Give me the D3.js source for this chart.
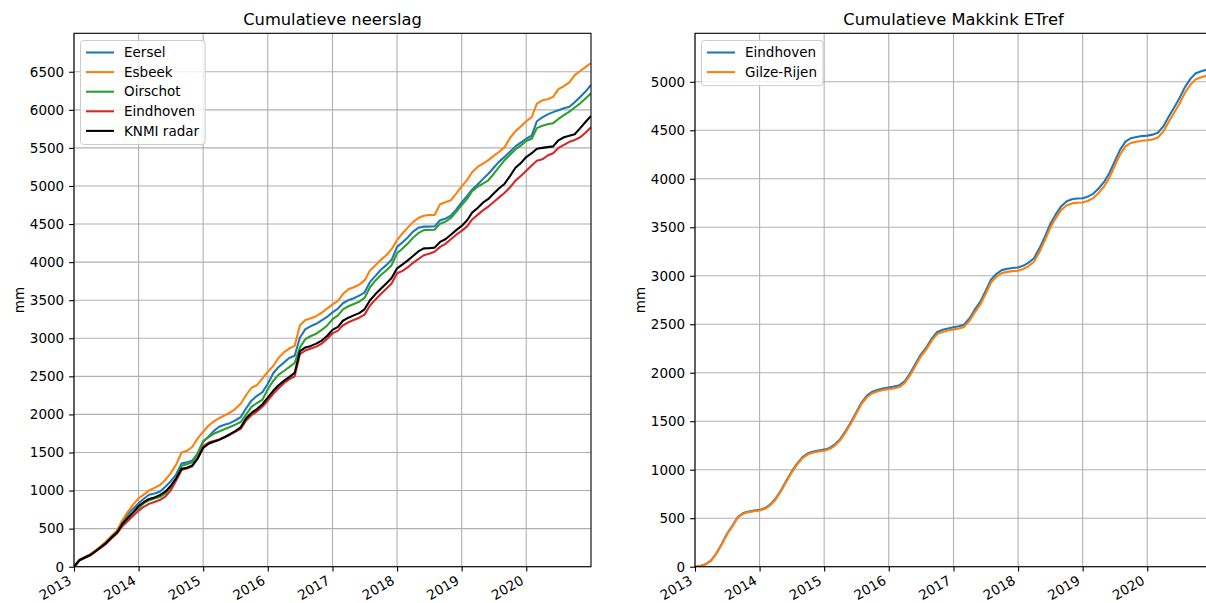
<!DOCTYPE html>
<html>
<head>
<meta charset="utf-8">
<script src="https://cdn.jsdelivr.net/npm/d3@7"></script>
<style>
  body { margin: 0; background: #fff; }
  svg { display: block; }
  text { font-family: "DejaVu Sans", sans-serif; fill: #000; }
</style>
</head>
<body>
<svg id="chart" width="1206" height="603"></svg>
<script>
// Month starts from January 2013 up to January 2021 (97 samples)
const months = d3.utcMonth.range(new Date(Date.UTC(2013, 0, 1)), new Date(Date.UTC(2021, 0, 2)));
const yearTicks = [2013, 2014, 2015, 2016, 2017, 2018, 2019, 2020];
const rainTicks = [0, 500, 1000, 1500, 2000, 2500, 3000, 3500, 4000, 4500, 5000, 5500, 6000, 6500];
const etTicks = [0, 500, 1000, 1500, 2000, 2500, 3000, 3500, 4000, 4500, 5000];

// Cumulative precipitation (mm) at each month start
const eersel = [0, 88, 122, 158, 210, 265, 325, 398, 465, 590, 690, 760,
  832, 895, 945, 960, 985, 1050, 1120, 1210, 1355, 1370, 1395, 1480,
  1640, 1710, 1780, 1838, 1865, 1885, 1920, 1965, 2080, 2180, 2245, 2290,
  2400, 2540, 2620, 2680, 2740, 2770, 3010, 3120, 3160, 3190, 3235, 3280,
  3340, 3390, 3460, 3500, 3525, 3560, 3600, 3740, 3820, 3900, 3960, 4030,
  4200, 4260, 4320, 4400, 4450, 4466, 4466, 4470, 4550, 4570, 4610, 4690,
  4785, 4870, 4950, 5020, 5090, 5160, 5240, 5320, 5385, 5450, 5520, 5570,
  5620, 5660, 5850, 5900, 5940, 5970, 5995, 6020, 6040, 6100, 6170, 6240, 6327];
const esbeek = [0, 90, 125, 160, 213, 268, 330, 405, 475, 610, 720, 815,
  898, 950, 1000, 1035, 1071, 1140, 1225, 1340, 1500, 1522, 1575, 1685,
  1773, 1855, 1905, 1950, 1985, 2025, 2070, 2140, 2255, 2350, 2385, 2470,
  2560, 2635, 2740, 2815, 2865, 2900, 3170, 3240, 3262, 3290, 3335, 3390,
  3445, 3490, 3580, 3645, 3670, 3705, 3760, 3890, 3960, 4030, 4090, 4170,
  4290, 4380, 4450, 4525, 4580, 4610, 4619, 4619, 4760, 4785, 4812, 4900,
  4995, 5080, 5180, 5250, 5295, 5340, 5395, 5450, 5510, 5630, 5720, 5780,
  5850, 5905, 6080, 6125, 6140, 6170, 6272, 6310, 6360, 6455, 6510, 6560, 6615];
const oirschot = [0, 88, 120, 155, 205, 258, 318, 390, 455, 570, 650, 715,
  767, 835, 870, 895, 915, 960, 1040, 1150, 1325, 1345, 1370, 1490,
  1650, 1700, 1745, 1775, 1805, 1835, 1865, 1900, 2000, 2100, 2150, 2190,
  2330, 2440, 2520, 2570, 2620, 2675, 2880, 2990, 3030, 3060, 3110, 3165,
  3250, 3300, 3380, 3420, 3450, 3480, 3530, 3670, 3760, 3830, 3890, 3960,
  4116, 4180, 4240, 4320, 4380, 4420, 4422, 4425, 4505, 4530, 4580, 4660,
  4750, 4830, 4930, 4990, 5030, 5075, 5160, 5250, 5340, 5410, 5480, 5530,
  5590, 5620, 5760, 5790, 5810, 5825, 5880, 5930, 5975, 6030, 6085, 6150, 6217];
const eindhovenRain = [0, 85, 115, 145, 195, 248, 300, 370, 435, 530, 600, 670,
  735, 790, 825, 850, 875, 920, 1000, 1130, 1270, 1290, 1320, 1430,
  1580, 1630, 1650, 1670, 1700, 1730, 1770, 1810, 1920, 1990, 2040, 2100,
  2180, 2270, 2340, 2410, 2460, 2500, 2790, 2840, 2865, 2890, 2930, 2990,
  3065, 3100, 3170, 3210, 3240, 3270, 3310, 3430, 3510, 3580, 3650, 3720,
  3853, 3885, 3930, 3990, 4040, 4090, 4110, 4137, 4200, 4240, 4300, 4360,
  4410, 4470, 4560, 4620, 4680, 4730, 4790, 4850, 4910, 4980, 5070, 5130,
  5200, 5270, 5330, 5350, 5400, 5430, 5500, 5540, 5580, 5605, 5640, 5700, 5771];
const knmiRadar = [0, 85, 118, 150, 200, 255, 310, 385, 450, 560, 640, 710,
  797, 850, 890, 910, 940, 985, 1060, 1160, 1285, 1300, 1330, 1420,
  1560, 1615, 1640, 1665, 1700, 1740, 1780, 1830, 1950, 2020, 2070, 2130,
  2220, 2310, 2380, 2440, 2490, 2545, 2830, 2880, 2900, 2930, 2970, 3030,
  3110, 3150, 3230, 3270, 3300, 3330, 3380, 3500, 3580, 3650, 3720, 3790,
  3919, 3970, 4020, 4080, 4140, 4180, 4182, 4190, 4265, 4300, 4360, 4420,
  4475, 4550, 4650, 4710, 4780, 4830, 4900, 4970, 5030, 5130, 5240, 5300,
  5380, 5430, 5490, 5500, 5510, 5520, 5600, 5640, 5660, 5680, 5760, 5840, 5920];

// Cumulative Makkink reference evaporation (mm) at each month start
const etEindhoven = [0, 8, 25, 62, 135, 235, 340, 424, 515, 553, 570, 578,
  586, 605, 640, 700, 785, 885, 980, 1062, 1130, 1170, 1188, 1198,
  1207, 1225, 1258, 1315, 1395, 1490, 1590, 1695, 1766, 1805, 1825, 1838,
  1848, 1858, 1870, 1915, 1995, 2095, 2190, 2262, 2355, 2420, 2443, 2457,
  2469, 2480, 2495, 2560, 2650, 2730, 2840, 2960, 3020, 3058, 3072, 3080,
  3086, 3105, 3135, 3180, 3280, 3400, 3530, 3630, 3715, 3765, 3788, 3796,
  3800, 3818, 3845, 3900, 3965, 4060, 4180, 4300, 4385, 4418, 4430, 4440,
  4445, 4455, 4475, 4540, 4640, 4735, 4830, 4945, 5030, 5088, 5108, 5125, 5132];
const etGilzeRijen = [0, 8, 24, 60, 132, 231, 335, 418, 508, 546, 563, 571,
  579, 597, 632, 691, 776, 876, 970, 1052, 1119, 1159, 1177, 1187,
  1196, 1213, 1246, 1302, 1382, 1476, 1576, 1680, 1750, 1789, 1808, 1821,
  1831, 1840, 1852, 1896, 1975, 2075, 2170, 2242, 2334, 2398, 2421, 2435,
  2447, 2457, 2472, 2535, 2622, 2702, 2810, 2930, 2990, 3027, 3040, 3048,
  3052, 3070, 3100, 3145, 3243, 3362, 3492, 3592, 3676, 3724, 3746, 3753,
  3756, 3773, 3800, 3854, 3918, 4012, 4132, 4252, 4337, 4370, 4382, 4392,
  4397, 4406, 4425, 4488, 4586, 4680, 4774, 4887, 4970, 5027, 5046, 5062, 5068];

const svg = d3.select("#chart");
svg.append("rect").attr("width", 1206).attr("height", 603).attr("fill", "#fff");

const plotTop = 33.3, plotBottom = 566.7;
const FS = 13.5;

function drawPanel(cfg) {
  const x = d3.scaleUtc()
    .domain([months[0], months[months.length - 1]])
    .range([cfg.left, cfg.right]);
  const y = d3.scaleLinear().domain([0, cfg.yMax]).range([plotBottom, plotTop]);

  const g = svg.append("g");
  const clipId = "clip-" + cfg.id;
  svg.append("clipPath").attr("id", clipId)
    .append("rect")
    .attr("x", cfg.left).attr("y", plotTop)
    .attr("width", cfg.right - cfg.left).attr("height", plotBottom - plotTop);

  const tickDates = yearTicks.map(yr => new Date(Date.UTC(yr, 0, 1)));

  // grid
  const grid = g.append("g").attr("stroke", "#b0b0b0").attr("stroke-width", 1.1);
  grid.selectAll("line.v").data(tickDates).join("line")
    .attr("x1", d => x(d)).attr("x2", d => x(d))
    .attr("y1", plotTop).attr("y2", plotBottom);
  grid.selectAll("line.h").data(cfg.yTicks).join("line")
    .attr("x1", cfg.left).attr("x2", cfg.right)
    .attr("y1", d => y(d)).attr("y2", d => y(d));

  // series
  const line = d3.line().x((d, i) => x(months[i])).y(d => y(d));
  const lines = g.append("g").attr("clip-path", `url(#${clipId})`);
  cfg.series.forEach(s => {
    lines.append("path")
      .attr("d", line(s.values))
      .attr("fill", "none")
      .attr("stroke", s.color)
      .attr("stroke-width", 2.08)
      .attr("stroke-linejoin", "round");
  });

  // axes
  const xAxis = d3.axisBottom(x).tickValues(tickDates)
    .tickFormat(d3.utcFormat("%Y")).tickSizeOuter(0).tickSize(4.9).tickPadding(4.9);
  const gx = g.append("g").attr("transform", `translate(0,${plotBottom})`).call(xAxis);
  gx.select(".domain").remove();
  gx.selectAll(".tick line").attr("stroke", "#000").attr("stroke-width", 1.1);
  gx.selectAll(".tick text")
    .attr("font-size", FS)
    .attr("text-anchor", "end")
    .attr("y", 0).attr("dy", "0.73em")
    .attr("transform", "translate(-7,8) rotate(-30)");

  const yAxis = d3.axisLeft(y).tickValues(cfg.yTicks).tickSizeOuter(0)
    .tickSize(4.9).tickPadding(4.9).tickFormat(d3.format("d"));
  const gy = g.append("g").attr("transform", `translate(${cfg.left},0)`).call(yAxis);
  gy.select(".domain").remove();
  gy.selectAll(".tick line").attr("stroke", "#000").attr("stroke-width", 1.1);
  gy.selectAll(".tick text").attr("font-size", FS).attr("font-family", "DejaVu Sans");
  gx.selectAll(".tick text").attr("font-family", "DejaVu Sans");

  // frame
  g.append("rect")
    .attr("x", cfg.left).attr("y", plotTop)
    .attr("width", cfg.right - cfg.left).attr("height", plotBottom - plotTop)
    .attr("fill", "none").attr("stroke", "#000").attr("stroke-width", 1.1);

  // title and y label
  g.append("text").attr("x", (cfg.left + cfg.right) / 2).attr("y", 25)
    .attr("text-anchor", "middle").attr("font-size", 16.3).text(cfg.title);
  g.append("text")
    .attr("transform", `translate(${cfg.left - 50},${(plotTop + plotBottom) / 2}) rotate(-90)`)
    .attr("text-anchor", "middle").attr("font-size", FS).text("mm");

  // legend
  const lg = g.append("g");
  const box = lg.append("rect")
    .attr("x", cfg.left + 6.5).attr("y", 40.5)
    .attr("rx", 3).attr("ry", 3)
    .attr("fill", "#fff").attr("fill-opacity", 0.8)
    .attr("stroke", "#cccccc").attr("stroke-width", 1);
  let maxW = 0;
  cfg.series.forEach((s, i) => {
    const cy = 52.5 + i * 19.6;
    lg.append("line")
      .attr("x1", cfg.left + 12).attr("x2", cfg.left + 40)
      .attr("y1", cy).attr("y2", cy)
      .attr("stroke", s.color).attr("stroke-width", 2.08);
    const t = lg.append("text")
      .attr("x", cfg.left + 50).attr("y", cy).attr("dy", "0.35em")
      .attr("font-size", FS).text(s.name);
    maxW = Math.max(maxW, t.node().getComputedTextLength());
  });
  box.attr("width", 50 + maxW + 6 - 6.5)
     .attr("height", cfg.series.length * 19.6 + 6);
}

drawPanel({
  id: "rain", left: 74, right: 591, yMax: 7005, yTicks: rainTicks,
  title: "Cumulatieve neerslag",
  series: [
    { name: "Eersel", values: eersel, color: "#1f77b4" },
    { name: "Esbeek", values: esbeek, color: "#ff7f0e" },
    { name: "Oirschot", values: oirschot, color: "#2ca02c" },
    { name: "Eindhoven", values: eindhovenRain, color: "#d62728" },
    { name: "KNMI radar", values: knmiRadar, color: "#000000" }
  ]
});

drawPanel({
  id: "et", left: 695, right: 1212, yMax: 5500, yTicks: etTicks,
  title: "Cumulatieve Makkink ETref",
  series: [
    { name: "Eindhoven", values: etEindhoven, color: "#1f77b4" },
    { name: "Gilze-Rijen", values: etGilzeRijen, color: "#ff7f0e" }
  ]
});
</script>
</body>
</html>
